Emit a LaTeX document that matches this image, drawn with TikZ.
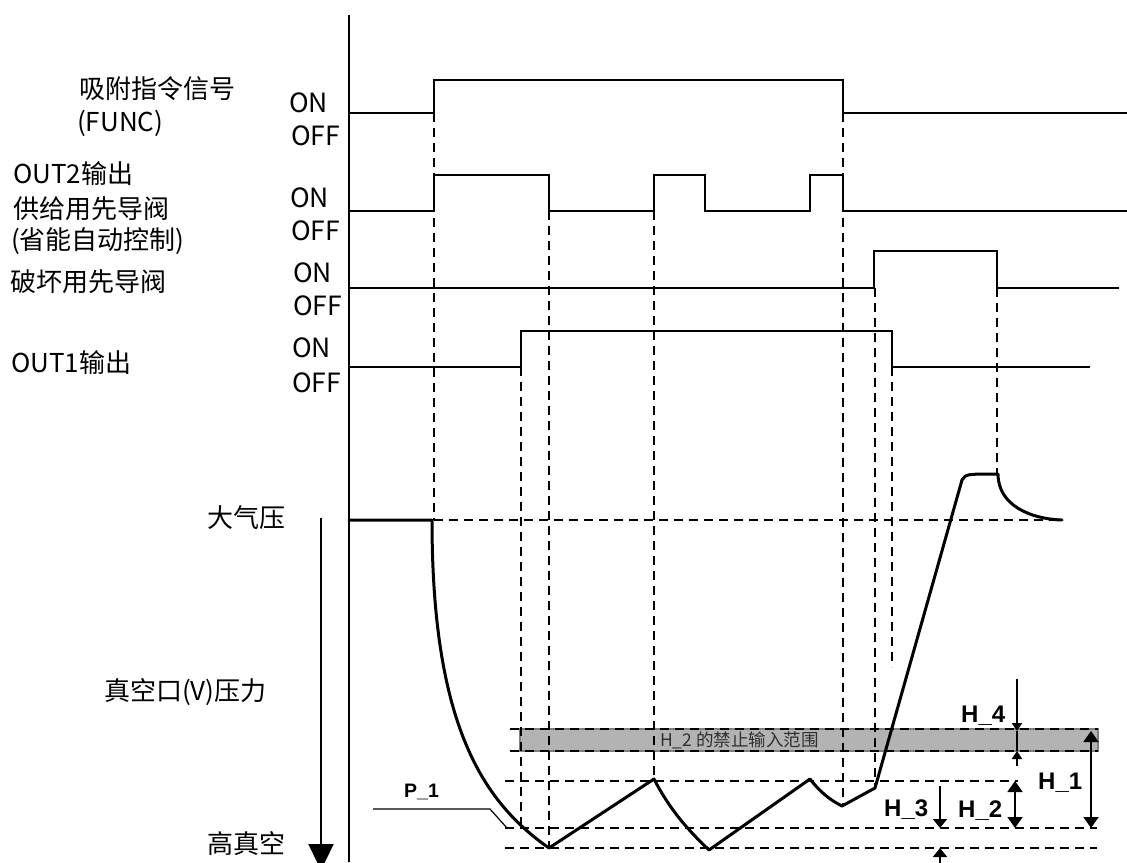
\documentclass[tikz,border=0pt]{standalone}
\usepackage{fontspec}
\setmainfont{Noto Sans CJK SC}
\newfontfamily\hfont{Liberation Sans}
\usetikzlibrary{arrows.meta}
\definecolor{bandfill}{HTML}{B3B3B3}
\definecolor{bandline}{HTML}{808080}
\definecolor{bandtext}{HTML}{303030}
\begin{document}
\begin{tikzpicture}[x=1pt,y=-1pt,
  sig/.style={line width=1.6pt},
  guide/.style={dash pattern=on 9pt off 6pt, line width=1.2pt},
  pres/.style={line width=3pt, line join=round, line cap=round},
  lbl/.style={font=\fontsize{26}{32}\selectfont, anchor=base west, inner sep=0pt},
  onoff/.style={font=\fontsize{26.5}{30}\selectfont, anchor=base west, inner sep=0pt},
  hlab/.style={font=\hfont\bfseries\fontsize{24}{28}\selectfont, anchor=base west, inner sep=0pt},
  bigtip/.style={line width=2pt, -{Triangle[width=15pt,length=11pt]}},
  smalltip/.style={line width=2pt, -{Triangle[width=10pt,length=8pt]}},
  bothtip/.style={line width=2pt, {Triangle[width=15pt,length=11pt]}-{Triangle[width=15pt,length=11pt]}}]
\useasboundingbox (0,0) rectangle (1127,862);

% ---- labels ----
\node[lbl] (l1a) at (79,98) {吸附指令信号};
\node[lbl] (l1b) at (77,131) {(FUNC)};
\node[lbl] (l2a) at (13,183) {OUT2输出};
\node[lbl] (l2b) at (13,218) {供给用先导阀};
\node[lbl] (l2c) at (11,249) {(省能自动控制)};
\node[lbl] (l3) at (10,291) {破坏用先导阀};
\node[lbl] (l4) at (11,372) {OUT1输出};
\node[onoff] (on1) at (289,112) {ON};
\node[onoff] (off1) at (291,145) {OFF};
\node[onoff] (on2) at (290,207) {ON};
\node[onoff] (off2) at (291,240) {OFF};
\node[onoff] (on3) at (293,282) {ON};
\node[onoff] (off3) at (293,315) {OFF};
\node[onoff] (on4) at (292,357) {ON};
\node[onoff] (off4) at (292,392) {OFF};
\node[lbl] (atm) at (207,527) {大气压};
\node[lbl] (vp) at (104,700) {真空口(V)压力};
\node[lbl] (hv) at (207,853) {高真空};

% ---- axis ----
\coordinate (axtop) at (349,15);
\coordinate (axbot) at (349,862);
\draw[line width=1.6pt] (axtop) -- (axbot);
\coordinate (pa) at (321,518);
\coordinate (pb) at (321,870);
\draw[line width=2.4pt, -{Triangle[width=25pt,length=26pt]}] (pa) -- (pb);

% ---- band ----
\fill[bandfill] (520,729) rectangle (1098,751);
\draw[bandline, line width=1.2pt] (520,729) rectangle (1098,751);
\node[font=\fontsize{17.5}{20}\selectfont, text=bandtext, anchor=west, inner sep=0pt] (bt) at (660,740) {H\_2 的禁止输入范围};

% ---- guides ----
\draw[guide] (434,113) -- (434,520);
\draw[guide] (549,211) -- (549,848);
\draw[guide] (654,211) -- (654,779);
\draw[guide] (843,113) -- (843,806);
\draw[guide] (521,367) -- (521,828);
\draw[guide] (875,288) -- (875,788);
\draw[guide] (892,367) -- (892,667);
\draw[guide] (997,288) -- (997,474);
\draw[guide] (434,520) -- (1058,520);
\draw[guide] (510,729) -- (1098,729);
\draw[guide] (510,751) -- (1098,751);
\draw[guide] (505,781) -- (1018,781);
\draw[guide] (505,828) -- (1097,828);
\draw[guide] (505,848) -- (1097,848);

% ---- signals ----
\draw[sig] (349,113) -- (434,113) -- (434,80) -- (843,80) -- (843,113) -- (1127,113);
\draw[sig] (349,211) -- (434,211) -- (434,175) -- (549,175) -- (549,211) -- (654,211) -- (654,175) -- (705,175) -- (705,211) -- (810,211) -- (810,175) -- (843,175) -- (843,211) -- (1127,211);
\draw[sig] (349,288) -- (874,288) -- (874,251) -- (997,251) -- (997,288) -- (1119,288);
\draw[sig] (349,367) -- (521,367) -- (521,331) -- (892,331) -- (892,367) -- (1090,367);

% ---- pressure ----
\draw[pres] (349,520) -- (432,520)
  .. controls (432,720) and (480,800) .. (549,848)
  -- (654,779)
  .. controls (670,810) and (688,830) .. (709,850)
  -- (810,779)
  .. controls (820,792) and (830,800) .. (842,806)
  -- (875,788) -- (962,480)
  .. controls (966,474) .. (998,474)
  .. controls (998,505) and (1030,519) .. (1062,520);

% ---- P_1 ----
\node[hlab, font=\hfont\bfseries\fontsize{19.5}{22}\selectfont] (p1) at (404,797) {P\_1};
\coordinate (p1a) at (373,809);
\coordinate (p1b) at (490,809);
\coordinate (p1c) at (507,828);
\draw[line width=1.2pt] (p1a) -- (p1b) -- (p1c);

% ---- dimension arrows ----
\node[hlab] (h4) at (961,722) {H\_4};
\node[hlab] (h1) at (1038,789) {H\_1};
\node[hlab] (h2) at (958,817) {H\_2};
\node[hlab] (h3) at (884,816) {H\_3};
\draw[smalltip] (1017,679) -- (1017,731);
\draw[line width=2pt] (1017,731) -- (1017,751);
\draw[smalltip] (1017,766) -- (1017,751);
\draw[bothtip] (1091,731) -- (1091,828);
\draw[bothtip] (1015,781) -- (1015,828);
\draw[line width=2pt, -{Triangle[width=14pt,length=9pt]}] (940,786) -- (940,828);
\draw[line width=2pt, -{Triangle[width=14pt,length=9pt]}] (940,866) -- (940,848);
\end{tikzpicture}
\end{document}
